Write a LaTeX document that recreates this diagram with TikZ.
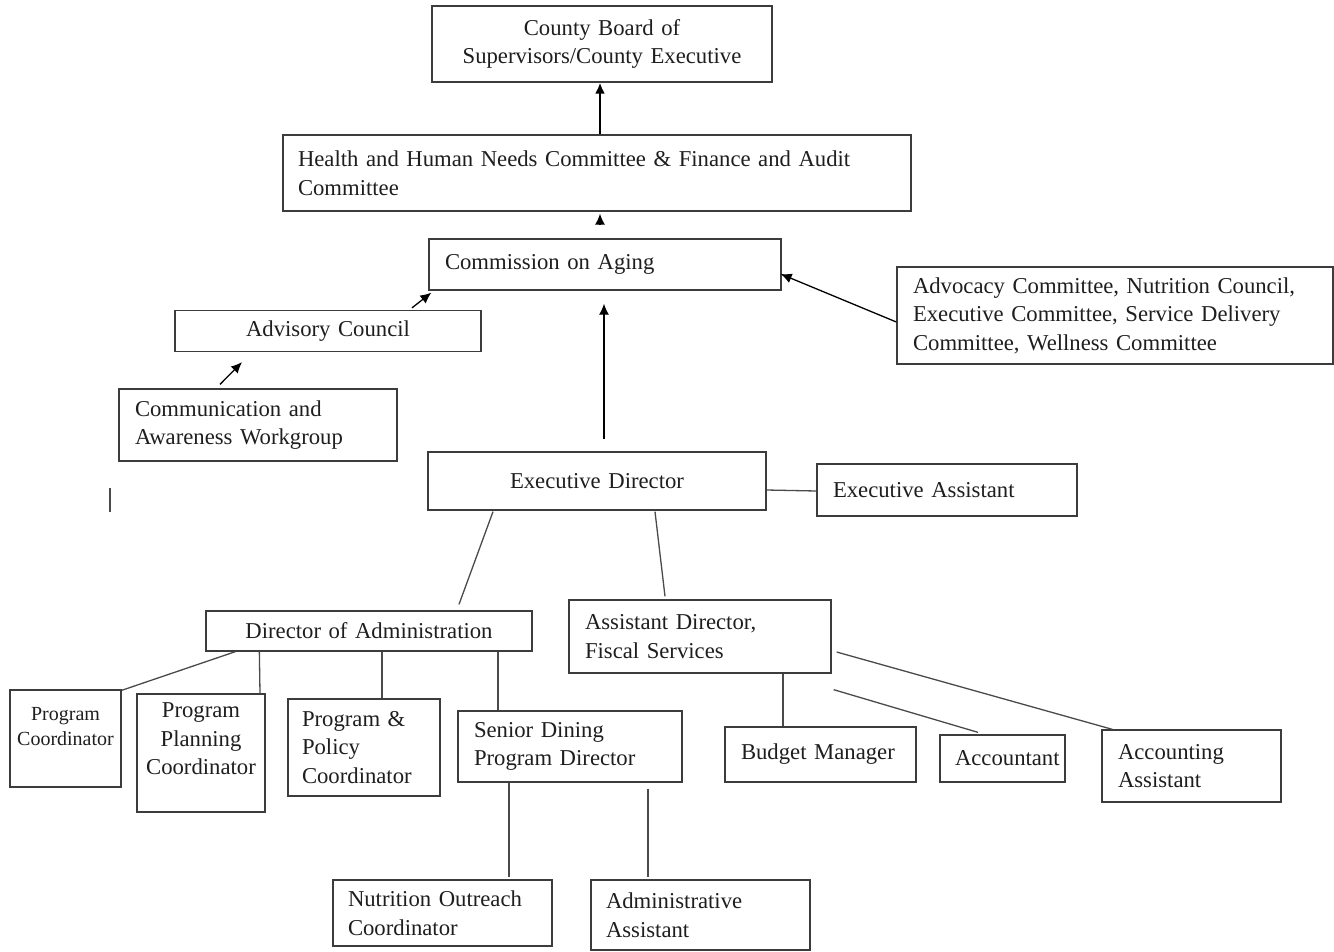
\documentclass[tikz,border=0pt]{standalone}
\usepackage{fontspec}
\setmainfont{Liberation Serif}
\usepackage{tikz}
\usetikzlibrary{arrows.meta,calc}

\definecolor{boxline}{HTML}{3C3C3C}
\definecolor{linkcol}{HTML}{4A4A4A}
\definecolor{textcol}{HTML}{1E1E1E}
\newcommand\boxfont{\fontsize{22.7}{28.5}\selectfont}
\newcommand\smallboxfont{\fontsize{20}{25}\selectfont}

\tikzset{
  box/.style={draw=boxline, line width=1.3pt, rectangle, inner sep=0pt, font=\boxfont, text=textcol},
  lbox/.style={box, align=left},
  cbox/.style={box, align=center},
  link/.style={draw=linkcol, line width=1.3pt},
  arr/.style={draw=black, line width=1.3pt, -{Latex[length=11pt,width=10pt]}}
}

\begin{document}
\begin{tikzpicture}[x=1pt,y=-1pt]
\useasboundingbox (0,0) rectangle (1334,951);

% upper part
\node[cbox, minimum width=340pt, minimum height=76pt, text width=330pt] (county) at (602,44) {County Board of\\Supervisors/County Executive};
\node[lbox, minimum width=628pt, minimum height=76pt, text width=598pt] (hhn) at (597,173) {Health and Human Needs Committee \& Finance and Audit\\Committee};
\node[lbox, minimum width=352pt, minimum height=51pt, text width=320pt] (coa) at (605,264.5) {Commission on Aging};
\node[cbox, minimum width=306pt, minimum height=41pt, text width=296pt] (adv) at (328,331) {Advisory Council};
\node[lbox, minimum width=278pt, minimum height=72pt, text width=246pt] (caw) at (258,425) {Communication and\\Awareness Workgroup};
\node[lbox, minimum width=436pt, minimum height=97pt, text width=404pt] (comm) at (1115,315.5) {Advocacy Committee, Nutrition Council,\\Executive Committee, Service Delivery\\Committee, Wellness Committee};

\draw[arr, line width=2.4pt] ($(hhn.north)+(3,0)$) -- ($(county.south)+(-2,0)$);
\draw[arr] ($(coa.north)+(-5,-13)$) -- ($(hhn.south)+(3,2)$);
\draw[arr] ($(adv.north)+(84,-2)$) -- ($(coa.south west)+(3,2)$);
\draw[arr] ($(caw.north)+(-38,-4)$) -- ($(adv.south)+(-86,10)$);
\draw[arr] ($(comm.west)+(0,6.5)$) -- ($(coa.east)+(-1,9.5)$);

% executive level
\node[cbox, minimum width=338pt, minimum height=58pt, text width=328pt] (ed) at (597,481) {Executive Director};
\node[lbox, minimum width=260pt, minimum height=52pt, text width=228pt] (ea) at (947,490) {Executive Assistant};

\draw[arr] ($(ed.north)+(7,-12)$) -- ($(coa.south)+(-1,13)$);
\draw[link] ($(ed.east)+(0,9)$) -- ($(ea.west)+(0,1)$);

\coordinate (mark) at (110,488);
\draw[link] (mark) -- ++(0,24);

% directors
\node[cbox, minimum width=326pt, minimum height=40pt, text width=316pt] (doa) at (369,631) {Director of Administration};
\node[lbox, minimum width=262pt, minimum height=73pt, text width=230pt] (adfs) at (700,636.5) {Assistant Director,\\Fiscal Services};

\draw[link] ($(ed.south)+(-104,1)$) -- ($(doa.north)+(90,-6)$);
\draw[link] ($(ed.south)+(58,1)$) -- ($(adfs.north)+(-35,-3)$);

% staff under administration
\node[cbox, font=\smallboxfont, minimum width=111pt, minimum height=97pt, text width=107pt] (pc) at (65.5,738.5) {Program\\Coordinator\\\mbox{}};
\node[cbox, minimum width=128pt, minimum height=118pt, text width=122pt] (ppc) at (201,753) {Program\\Planning\\Coordinator\\\mbox{}};
\node[lbox, minimum width=152pt, minimum height=97pt, text width=124pt] (ppol) at (364,747.5) {Program \&\\Policy\\Coordinator};
\node[lbox, minimum width=224pt, minimum height=71pt, text width=192pt] (sdpd) at (570,746.5) {Senior Dining\\Program Director};

\draw[link] ($(doa.south west)+(30,0)$) -- ($(pc.north east)+(0,1)$);
\draw[link] ($(doa.south west)+(54,0)$) -- ($(ppc.north)+(59,0)$);
\draw[link] ($(doa.south)+(13,0)$) -- ($(ppol.north)+(18,0)$);
\draw[link] ($(doa.south)+(129,0)$) -- ($(sdpd.north)+(-72,0)$);

% fiscal staff
\node[lbox, minimum width=191pt, minimum height=55pt, text width=159pt] (bm) at (820.5,754.5) {Budget Manager};
\node[lbox, minimum width=125pt, minimum height=47pt, text width=95pt] (acc) at (1002.5,758.5) {Accountant};
\node[lbox, minimum width=179pt, minimum height=72pt, text width=147pt] (aa) at (1191.5,766) {Accounting\\Assistant};

\draw[link] ($(adfs.south)+(83,0)$) -- ($(bm.north)+(-37.5,0)$);
\draw[link] ($(adfs.south east)+(2,16)$) -- ($(acc.north)+(-24.5,-2)$);
\draw[link] ($(adfs.east)+(5,15.5)$) -- ($(aa.north west)+(11,0)$);

% senior dining staff
\node[lbox, minimum width=219pt, minimum height=66pt, text width=189pt] (noc) at (442.5,913) {Nutrition Outreach\\Coordinator};
\node[lbox, minimum width=219pt, minimum height=70pt, text width=189pt] (adm) at (700.5,915) {Administrative\\Assistant};

\draw[link] ($(sdpd.south)+(-61,0)$) -- ($(noc.north)+(66.5,-2)$);
\draw[link] ($(sdpd.south)+(78,6)$) -- ($(adm.north)+(-52.5,-2)$);

\end{tikzpicture}
\end{document}
